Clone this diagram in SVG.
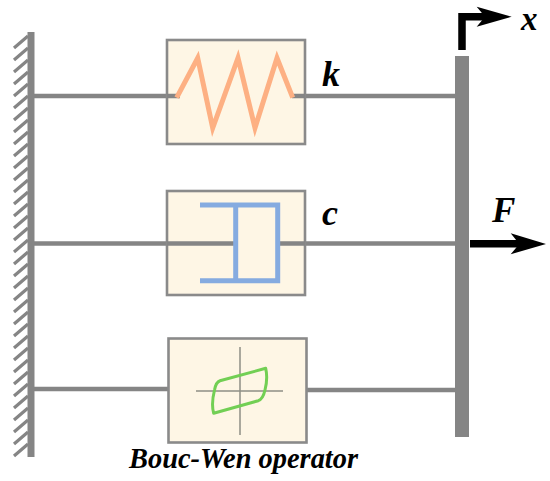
<svg xmlns="http://www.w3.org/2000/svg" width="550" height="481" viewBox="0 0 550 481">
<style>
.g{stroke:#858585;fill:none}
.l{stroke:#858585;stroke-width:4.500;fill:none}
.box{fill:#fef6e5;stroke:#8a8a8a;stroke-width:2.600}
.t{font-family:"Liberation Serif",serif;font-weight:bold;font-style:italic;fill:#000}
</style>
<rect width="550" height="481" fill="#fff"/>
<g id="connectors">
<path class="l" d="M34 96H456M34 243.500H456M34 389H168M306 390H456"/>
</g>
<g id="wall">
<path class="g" stroke-width="3.200" d="M14 48L28 36M14 60L28 48M14 72L28 60M14 84L28 72M14 96L28 84M14 108L28 96M14 120L28 108M14 132L28 120M14 144L28 132M14 156L28 144M14 168L28 156M14 180L28 168M14 192L28 180M14 204L28 192M14 216L28 204M14 228L28 216M14 240L28 228M14 252L28 240M14 264L28 252M14 276L28 264M14 288L28 276M14 300L28 288M14 312L28 300M14 324L28 312M14 336L28 324M14 348L28 336M14 360L28 348M14 372L28 360M14 384L28 372M14 396L28 384M14 408L28 396M14 420L28 408M14 432L28 420M14 444L28 432M14 456L28 444"/>
<rect x="27.500" y="32" width="7" height="425" fill="#858585"/>
</g>
<g id="spring">
<rect class="box" x="167" y="40" width="138" height="104"/>
<path class="l" d="M167 96H180M292 96H305"/>
<path d="M176.700 97.700L197.700 58L212.700 128L238 58L255 128L277 58L292.700 97.700" fill="none" stroke="#fdb083" stroke-width="5"/>
</g>
<g id="damper">
<rect class="box" x="167" y="191" width="138" height="104"/>
<path class="l" d="M167 243.500H236M278 243.500H305"/>
<path d="M200 205H277.700V280.700H200M235.700 205V280.700" fill="none" stroke="#85abe0" stroke-width="5"/>
</g>
<g id="bouc-wen">
<rect class="box" x="168.500" y="338.500" width="138" height="104"/>
<path d="M196 391H283M240 347V435" fill="none" stroke="#8f8f85" stroke-width="1.500"/>
<path d="M213.700 413.300L258.300 400.700Q263 399 265 390Q268 378 265.700 368.300L220 380.700Q216 382 214.500 390Q211 404 213.700 413.300Z" fill="none" stroke="#72cf54" stroke-width="3" stroke-linejoin="round"/>
<text class="t" x="129" y="468" font-size="28.400">Bouc-Wen operator</text>
</g>
<g id="mass">
<rect x="455" y="56" width="14" height="381" fill="#858585"/>
</g>
<g id="axis-x">
<path d="M462 50V16.700H490" fill="none" stroke="#000" stroke-width="7.500"/>
<path d="M511.700 16.700L476.700 6.700L485 16.700L476.700 26.700Z" fill="#000"/>
<text class="t" x="521" y="30" font-size="33">x</text>
</g>
<g id="force-F">
<path d="M470 243.700H525" stroke="#000" stroke-width="7.500" fill="none"/>
<path d="M546 244L510.700 233.300L519.300 244L510.700 254.300Z" fill="#000"/>
<text class="t" x="492" y="221.700" font-size="35">F</text>
</g>
<g id="labels">
<text class="t" x="322" y="85.500" font-size="36">k</text>
<text class="t" x="322" y="225" font-size="36">c</text>
</g>
</svg>
